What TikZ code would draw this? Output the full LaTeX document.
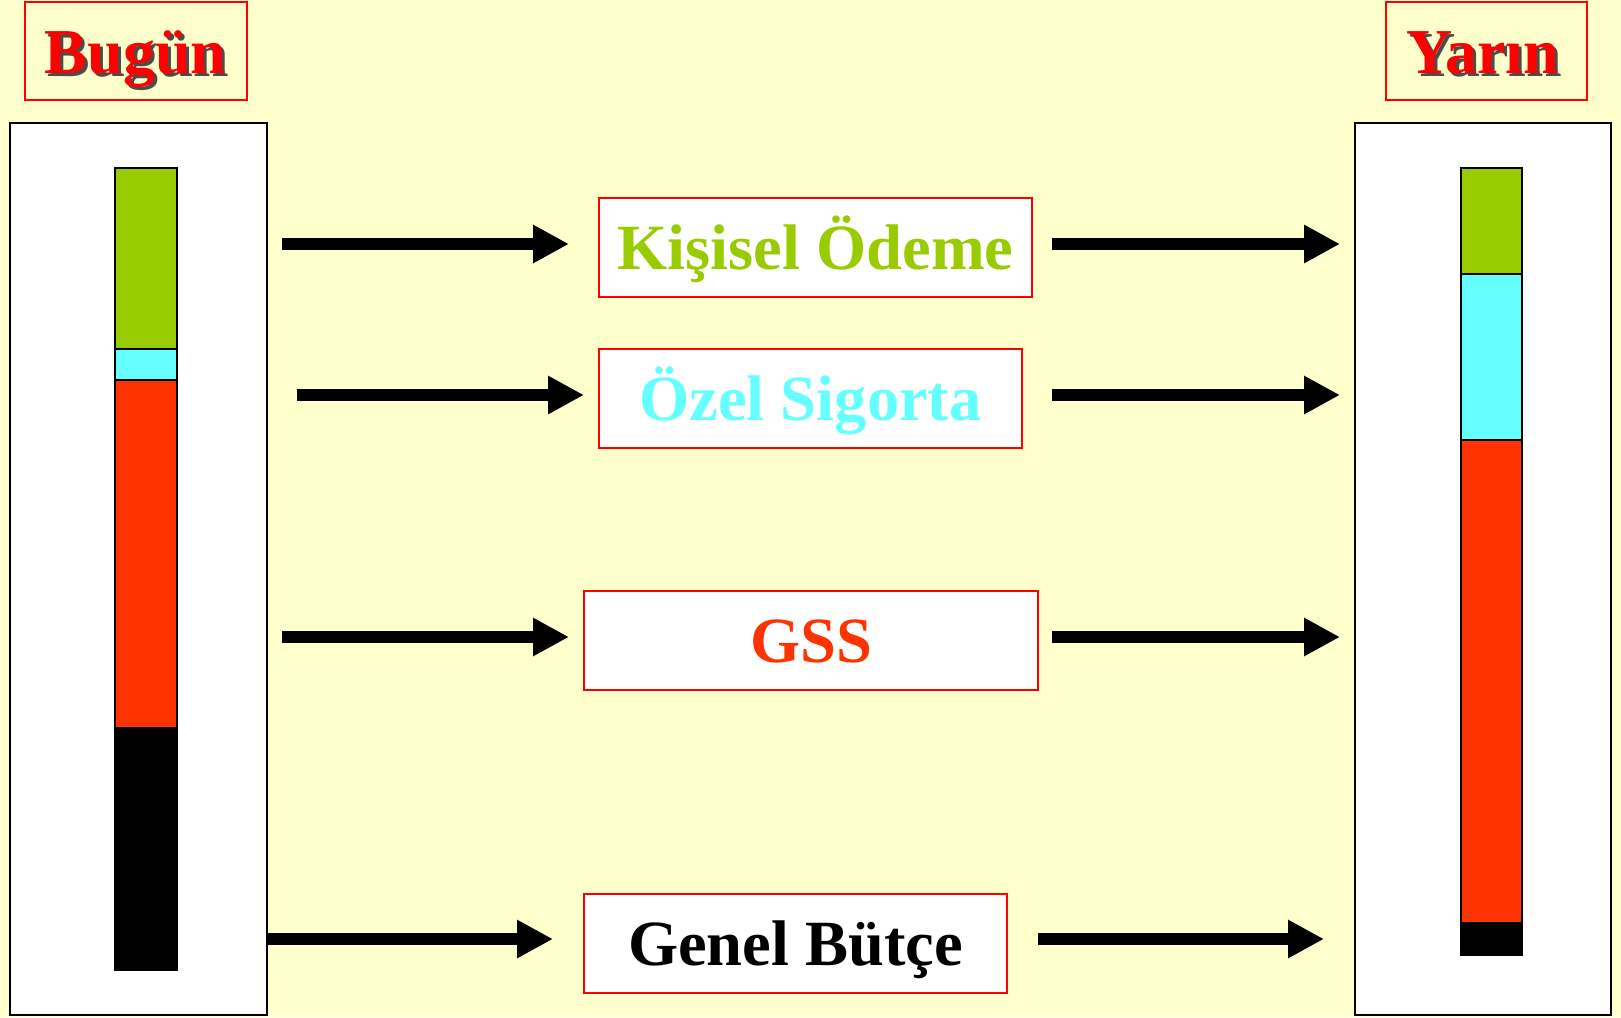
\documentclass[tikz,border=0pt]{standalone}
\usepackage{fontspec}
\setmainfont{Liberation Serif}
\usetikzlibrary{arrows.meta}
\definecolor{bg}{HTML}{FFFFCC}
\definecolor{cgreen}{HTML}{99CC00}
\definecolor{ccyan}{HTML}{66FFFF}
\definecolor{cred}{HTML}{FF3300}
\definecolor{tred}{HTML}{FF0000}
\tikzset{
  titlebox/.style={draw=tred, line width=2pt, minimum height=98pt, inner sep=0pt},
  titletext/.style={text=tred, font=\bfseries\fontsize{64}{70}\selectfont, inner sep=0pt, text height=50pt, text depth=6pt},
  shadowtext/.style={text=black!70, font=\bfseries\fontsize{64}{70}\selectfont, inner sep=0pt, text height=50pt, text depth=6pt},
  panel/.style={draw=black, line width=2pt, fill=white, inner sep=0pt},
  labbox/.style={draw=tred, line width=2pt, fill=white, minimum height=99pt, inner sep=0pt, text height=50pt, text depth=6pt, font=\bfseries\fontsize{64.5}{70}\selectfont},
  seg/.style={draw=black, line width=2pt},
  arr/.style={line width=12pt, -{Triangle[length=36pt,width=36pt]}},
}
\begin{document}
\begin{tikzpicture}[x=1pt,y=-1pt]
\useasboundingbox (0,0) rectangle (1621,1017);
\fill[bg] (0,0) rectangle (1621,1017);
% titles
\node[titlebox, minimum width=222pt] (bugun) at (136,51) {};
\node[shadowtext] at (138.5,54) {Bugün};
\node[titletext] (bugunt) at (135.5,51) {Bugün};
\node[titlebox, minimum width=201pt] (yarin) at (1486.5,51) {};
\node[shadowtext] at (1485.5,54) {Yarın};
\node[titletext] (yarint) at (1482.5,51) {Yarın};
% panels
\node[panel, minimum width=257pt, minimum height=892pt] (lp) at (138.5,569) {};
\node[panel, minimum width=256pt, minimum height=892pt] (rp) at (1483,569) {};
% left bar
\filldraw[seg, fill=cgreen] (115,168) rectangle (177,349);
\filldraw[seg, fill=ccyan] (115,349) rectangle (177,380);
\filldraw[seg, fill=cred] (115,380) rectangle (177,728);
\filldraw[seg, fill=black] (115,728) rectangle (177,970);
% right bar
\filldraw[seg, fill=cgreen] (1461,168) rectangle (1522,274);
\filldraw[seg, fill=ccyan] (1461,274) rectangle (1522,440);
\filldraw[seg, fill=cred] (1461,440) rectangle (1522,923);
\filldraw[seg, fill=black] (1461,923) rectangle (1522,955);
% center boxes
\node[labbox, minimum width=433pt, text=cgreen] (k) at (815.5,247.5) {Kişisel Ödeme};
\node[labbox, minimum width=423pt, text=ccyan] (o) at (810.5,398.5) {Özel Sigorta};
\node[labbox, minimum width=454pt, text=cred] (g) at (811,640.5) {GSS};
\node[labbox, minimum width=423pt, text=black] (b) at (795.5,943) {Genel Bütçe};
% arrow coordinates
\coordinate (k1) at (282,244); \coordinate (k2) at (569,244);
\coordinate (k3) at (1052,244); \coordinate (k4) at (1340,244);
\coordinate (o1) at (297,395); \coordinate (o2) at (584,395);
\coordinate (o3) at (1052,395); \coordinate (o4) at (1340,395);
\coordinate (g1) at (282,637); \coordinate (g2) at (569,637);
\coordinate (g3) at (1052,637); \coordinate (g4) at (1340,637);
\coordinate (b1) at (267,939); \coordinate (b2) at (553,939);
\coordinate (b3) at (1038,939); \coordinate (b4) at (1324,939);
\draw[arr] (k1) -- (k2);
\draw[arr] (k3) -- (k4);
\draw[arr] (o1) -- (o2);
\draw[arr] (o3) -- (o4);
\draw[arr] (g1) -- (g2);
\draw[arr] (g3) -- (g4);
\draw[arr] (b1) -- (b2);
\draw[arr] (b3) -- (b4);
\end{tikzpicture}
\end{document}
